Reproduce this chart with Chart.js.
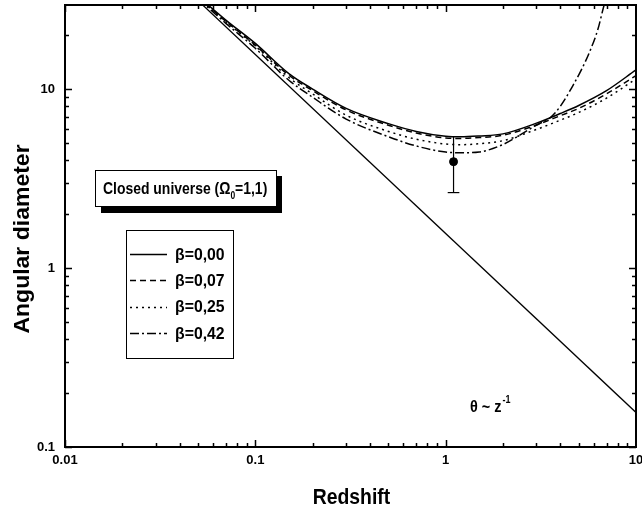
<!DOCTYPE html>
<html>
<head>
<meta charset="utf-8">
<script src="https://cdn.jsdelivr.net/npm/chart.js@4.4.1/dist/chart.umd.min.js"></script>
<style>body{margin:0;background:#fff}</style>
</head>
<body>
<canvas id="AngChart" width="642" height="509"></canvas>
<script>
// curve values (redshift -> angular diameter)
var redshift = [0.05, 0.07, 0.1, 0.15, 0.2, 0.3, 0.5, 0.7, 1, 1.2, 1.5, 2, 3, 4, 5, 7, 10];
var beta000 = [33, 24.3, 18.0, 12.2, 10.0, 7.8, 6.41, 5.8, 5.45, 5.41, 5.47, 5.62, 6.45, 7.3, 8.1, 9.8, 12.8];
var beta007 = [32.5, 23.9, 17.6, 11.95, 9.8, 7.65, 6.28, 5.68, 5.33, 5.3, 5.36, 5.52, 6.3, 7.1, 7.8, 9.4, 11.9];
var beta025 = [32.3, 23.8, 17.4, 11.6, 9.4, 7.15, 5.8, 5.25, 4.93, 4.89, 4.95, 5.15, 5.95, 6.7, 7.4, 8.9, 11.4];
var redshift42 = [0.05, 0.07, 0.1, 0.15, 0.2, 0.3, 0.5, 0.7, 1, 1.25, 1.5, 2, 2.5, 3, 3.5, 4, 4.67, 5.2, 5.7, 6.3, 6.8, 7.2];
var beta042 = [32, 23.3, 16.9, 11.2, 9.0, 6.8, 5.42, 4.81, 4.45, 4.41, 4.45, 4.9, 5.6, 6.3, 6.85, 8.0, 10.5, 13, 16.1, 21.5, 29.5, 36];
var powerZ = [0.01, 10];
var powerTheta = [156, 0.156];
var obsZ = 1.1, obsTheta = 3.93, obsLow = 2.64, obsHigh = 5.4;
var capZ = [1.025, 1.18];
var xTicks = [0.01, 0.1, 1, 10];
var yTicks = [0.1, 1, 10];
var legendLabels = ['β=0,00', 'β=0,07', 'β=0,25', 'β=0,42'];
var dashes = [[], [6, 4], [2, 4], [9, 3, 2, 3]];

function pts(xs, ys){
    var out = [];
    for(let i = 0; i < xs.length; i++) out.push({x: xs[i], y: ys[i]});
    return out;
}

function curve(data, d){
    return {data: data, borderColor: '#000', borderWidth: 1.5, borderDash: d,
        pointRadius: 0, cubicInterpolationMode: 'monotone', fill: false};
}

// draws bold text squeezed sideways (the original looks like a narrow font), returns its width
function narrowText(ctx, s, x, y, size, sx){
    ctx.save();
    ctx.translate(x, y);
    ctx.scale(sx, 1);
    ctx.font = 'bold ' + size + 'px Arial, "Liberation Sans", sans-serif';
    ctx.fillText(s, 0, 0);
    var w = ctx.measureText(s).width * sx;
    ctx.restore();
    return w;
}

var decor = {
    id: 'decor',
    afterDatasetsDraw(chart){
        var ctx = chart.ctx, a = chart.chartArea;
        var xs = chart.scales.x, ys = chart.scales.y;
        ctx.save();
        ctx.strokeStyle = '#000';
        ctx.fillStyle = '#000';
        ctx.lineWidth = 1.5;
        ctx.beginPath();
        //ticks on all four sides, pointing in
        for(let d = 0.01; d < 10; d *= 10){
            for(let m = 1; m <= 9; m++){
                let px = Math.round(xs.getPixelForValue(d * m)) + 0.5;
                let len = m == 1 ? 7 : 4;
                ctx.moveTo(px, a.bottom); ctx.lineTo(px, a.bottom - len);
                ctx.moveTo(px, a.top); ctx.lineTo(px, a.top + len);
            }
        }
        for(let d = 0.1; d < 100; d *= 10){
            for(let m = 1; m <= 9; m++){
                let v = d * m;
                if(v > ys.max) break;
                let py = Math.round(ys.getPixelForValue(v)) + 0.5;
                let len = m == 1 ? 7 : 4;
                ctx.moveTo(a.left, py); ctx.lineTo(a.left + len, py);
                ctx.moveTo(a.right, py); ctx.lineTo(a.right - len, py);
            }
        }
        ctx.stroke();
        ctx.lineWidth = 2;
        ctx.strokeRect(a.left, a.top, a.right - a.left, a.bottom - a.top);

        //axis titles
        ctx.textAlign = 'center';
        ctx.textBaseline = 'alphabetic';
        narrowText(ctx, 'Redshift', (a.left + a.right) / 2 + 1, 504, 22, 0.88);
        ctx.save();
        ctx.translate(29, 239);
        ctx.rotate(-Math.PI / 2);
        ctx.scale(1, 0.95);
        ctx.font = 'bold 23px Arial, "Liberation Sans", sans-serif';
        ctx.fillText('Angular diameter', 0, 0);
        ctx.restore();
        ctx.textAlign = 'left';

        //closed universe box with shadow
        ctx.fillRect(101, 176, 181, 37);
        ctx.fillStyle = '#fff';
        ctx.fillRect(95, 170, 181, 36);
        ctx.lineWidth = 1;
        ctx.strokeRect(95.5, 170.5, 181, 36);
        ctx.fillStyle = '#000';
        let w = narrowText(ctx, 'Closed universe (Ω', 103, 194, 17, 0.82);
        w += narrowText(ctx, '0', 103 + w, 199, 10, 0.85);
        narrowText(ctx, '=1,1)', 103 + w, 194, 17, 0.82);

        //legend
        ctx.lineWidth = 1;
        ctx.strokeRect(126.5, 230.5, 107, 128);
        for(let i = 0; i < legendLabels.length; i++){
            let y = 254 + i * 26.3;
            ctx.beginPath();
            ctx.setLineDash(dashes[i]);
            ctx.lineWidth = 1.5;
            ctx.moveTo(130, Math.round(y) + 0.5);
            ctx.lineTo(167, Math.round(y) + 0.5);
            ctx.stroke();
            ctx.setLineDash([]);
            ctx.textBaseline = 'middle';
            narrowText(ctx, legendLabels[i], 175, y + 1, 17, 0.93);
        }

        //theta ~ z^-1
        ctx.textBaseline = 'alphabetic';
        let w3 = narrowText(ctx, 'θ ~ z', 470, 412, 17, 0.85);
        narrowText(ctx, '-1', 471 + w3, 403, 10, 0.9);
        ctx.restore();
    }
};

var config = {
    type: 'line',
    data: {
        datasets: [
            curve(pts(redshift, beta000), dashes[0]),
            curve(pts(redshift, beta007), dashes[1]),
            curve(pts(redshift, beta025), dashes[2]),
            curve(pts(redshift42, beta042), dashes[3]),
            {data: pts(powerZ, powerTheta), borderColor: '#000', borderWidth: 1.3, pointRadius: 0},
            {data: [{x: obsZ, y: obsLow}, {x: obsZ, y: obsHigh}], borderColor: '#000', borderWidth: 1.2, pointRadius: 0},
            {data: [{x: capZ[0], y: obsLow}, {x: capZ[1], y: obsLow}], borderColor: '#000', borderWidth: 1.2, pointRadius: 0},
            {data: [{x: obsZ, y: obsTheta}], showLine: false, pointRadius: 4,
                pointBackgroundColor: '#000', pointBorderColor: '#000'}
        ]
    },
    options: {
        responsive: false,
        animation: false,
        layout: {padding: {top: 3, right: 6, left: 0, bottom: 0}},
        plugins: {legend: {display: false}, tooltip: {enabled: false}},
        scales: {
            x: {
                type: 'logarithmic', min: 0.01, max: 10,
                grid: {display: false, drawTicks: false},
                border: {display: false},
                afterBuildTicks: function(s){ s.ticks = xTicks.map(v => ({value: v})); },
                afterFit: function(s){ s.height = 62; s.paddingLeft = 0; s.paddingRight = 0; },
                ticks: {
                    padding: 6, color: '#000', maxRotation: 0,
                    font: {family: 'Arial, "Liberation Sans"', weight: 'bold', size: 13},
                    callback: function(v){ return String(v); }
                }
            },
            y: {
                type: 'logarithmic', min: 0.1, max: 29.5,
                grid: {display: false, drawTicks: false},
                border: {display: false},
                afterBuildTicks: function(s){ s.ticks = yTicks.map(v => ({value: v})); },
                afterFit: function(s){ s.width = 65; s.paddingTop = 0; s.paddingBottom = 0; },
                ticks: {
                    padding: 10, color: '#000',
                    font: {family: 'Arial, "Liberation Sans"', weight: 'bold', size: 13},
                    callback: function(v){ return String(v); }
                }
            }
        }
    },
    plugins: [decor]
};

var angChart = new Chart(document.getElementById('AngChart'), config);
</script>
</body>
</html>
